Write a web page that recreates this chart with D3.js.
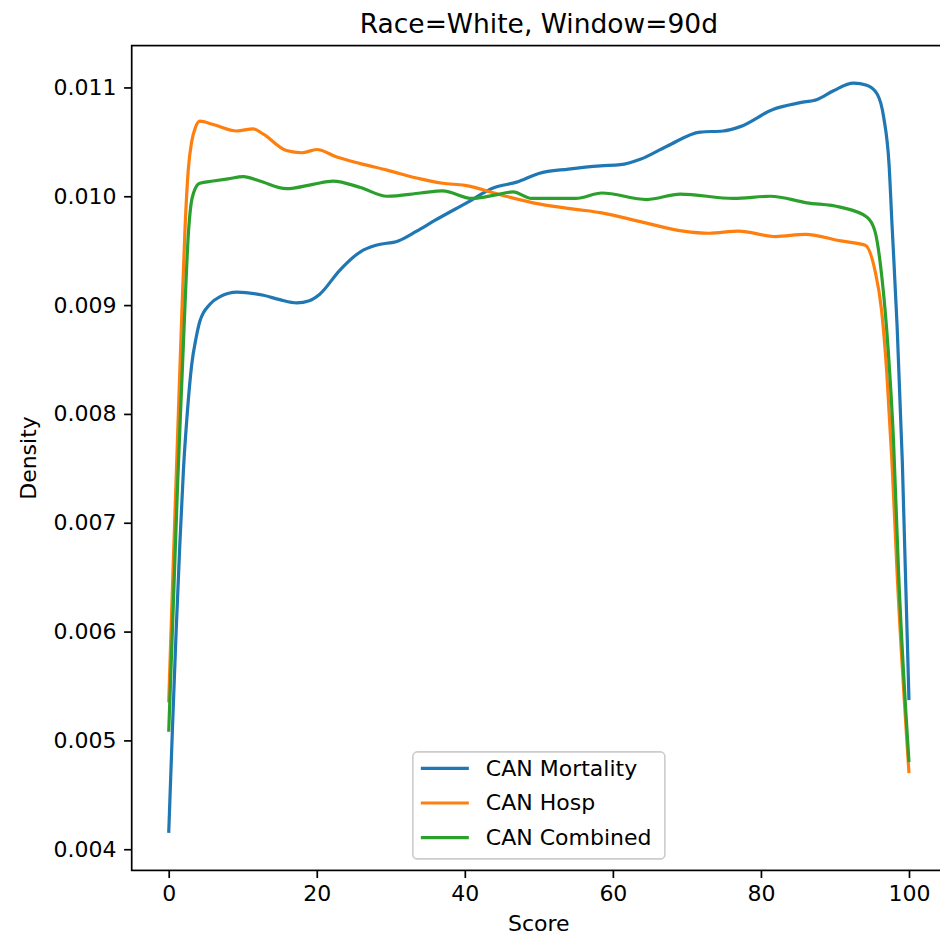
<!DOCTYPE html>
<html>
<head>
<meta charset="utf-8">
<script src="https://cdn.jsdelivr.net/npm/d3@7"></script>
<style>
  html, body { margin: 0; padding: 0; background: #fff; overflow: hidden; }
  svg { display: block; font-family: "DejaVu Sans", sans-serif; }
</style>
</head>
<body>
<svg id="chart" width="940" height="937"></svg>
<script>
// Density curves of the score, one per model
const seriesNames = ["CAN Mortality", "CAN Hosp", "CAN Combined"];
const seriesColors = ["#1f77b4", "#ff7f0e", "#2ca02c"];

const mortalityScore = [0, 0.5, 1.0, 1.5, 2.0, 2.5, 3.1, 3.7, 4.2, 5.6, 7, 9.2, 12.8, 15, 17.3, 19, 20.4, 23.1, 25.9, 28, 31, 33.5, 36, 40, 44, 47, 50, 54, 58.3, 61, 63.7, 67.3, 71.8, 74.9, 77.2, 81.7, 85.3, 87.6, 89.8, 92.5, 94.3, 95.7, 96.6, 97.3, 97.7, 98.4, 99.1, 100];
const mortalityDensity = [0.00415, 0.0051, 0.0060, 0.0068, 0.0075, 0.0080, 0.00845, 0.0087, 0.00885, 0.00901, 0.00908, 0.00912, 0.00909, 0.00905, 0.00902, 0.00904, 0.0091, 0.00932, 0.00949, 0.00955, 0.00959, 0.00968, 0.00978, 0.00993, 0.01008, 0.01013, 0.01021, 0.01025, 0.01028, 0.01029, 0.01034, 0.01046, 0.01059, 0.0106, 0.01064, 0.0108, 0.01086, 0.01089, 0.01097, 0.01104, 0.01102, 0.01094, 0.01072, 0.0103, 0.00975, 0.0088, 0.00756, 0.00537];

const hospScore = [0, 0.6, 1.2, 1.76, 2.2, 2.65, 3.1, 3.6, 4.2, 6, 9.2, 11.4, 12.8, 15.9, 18, 20, 22.7, 25.9, 29.5, 34, 37, 40, 45, 50, 55, 58.3, 64.1, 69.5, 73, 77, 82, 86, 90.8, 94.1, 95.4, 96.3, 97, 97.7, 98.4, 100];
const hospDensity = [0.00535, 0.0066, 0.0078, 0.0089, 0.0097, 0.01025, 0.0105, 0.01063, 0.01069, 0.01066, 0.0106, 0.01062, 0.01057, 0.01042, 0.0104, 0.01043, 0.01036, 0.0103, 0.01024, 0.01016, 0.01012, 0.0101, 0.01001, 0.00993, 0.00988, 0.00985, 0.00976, 0.00968, 0.00966, 0.00968, 0.00963, 0.00965, 0.00959, 0.00955, 0.00932, 0.00895, 0.00838, 0.00756, 0.00653, 0.0047];

const combinedScore = [0, 0.6, 1.2, 1.89, 2.2, 2.65, 3.0, 3.4, 4.2, 6, 8, 10.1, 12.3, 15.9, 19.5, 22.2, 25.9, 29.5, 34, 37, 41, 44, 46.5, 49, 55, 58.5, 64.6, 69.1, 76.3, 81.3, 86.2, 90.7, 94.3, 95.4, 96.3, 97.2, 97.9, 98.6, 100];
const combinedDensity = [0.00508, 0.0062, 0.00735, 0.00849, 0.0090, 0.00965, 0.00992, 0.01004, 0.01012, 0.01014, 0.01016, 0.01018, 0.01014, 0.01007, 0.01011, 0.01014, 0.01008, 0.0100, 0.01003, 0.01005, 0.00998, 0.01001, 0.01004, 0.00998, 0.00998, 0.01003, 0.00997, 0.01002, 0.00998, 0.0100, 0.00994, 0.0099, 0.00981, 0.00968, 0.00928, 0.00858, 0.00777, 0.00653, 0.0048];

const xTicks = [0, 20, 40, 60, 80, 100];
const yTicks = [0.004, 0.005, 0.006, 0.007, 0.008, 0.009, 0.010, 0.011];

const titleText = "Race=White, Window=90d";
const xLabel = "Score";
const yLabel = "Density";

const series = [
  { name: seriesNames[0], color: seriesColors[0], xs: mortalityScore, ys: mortalityDensity },
  { name: seriesNames[1], color: seriesColors[1], xs: hospScore, ys: hospDensity },
  { name: seriesNames[2], color: seriesColors[2], xs: combinedScore, ys: combinedDensity }
];

const svg = d3.select("#chart");
const box = { left: 131.7, top: 45.6, right: 946, bottom: 870.4 };
const fs = 22;          // tick / label / legend font size
const tickLen = 7.6, tickPad = 7.6;

// Axis limits with a 5% margin on each side of the data range
const allX = series.flatMap(s => s.xs), allY = series.flatMap(s => s.ys);
const [x0, x1] = d3.extent(allX), [y0, y1] = d3.extent(allY);
const mx = (x1 - x0) * 0.05, my = (y1 - y0) * 0.05;

const x = d3.scaleLinear().domain([x0 - mx, x1 + mx]).range([box.left, box.right]);
const y = d3.scaleLinear().domain([y0 - my, y1 + my]).range([box.bottom, box.top]);

// Curves
const line = d3.line().x(d => x(d[0])).y(d => y(d[1])).curve(d3.curveMonotoneX);
const plot = svg.append("g");
series.forEach(s => {
  plot.append("path")
    .datum(d3.zip(s.xs, s.ys))
    .attr("fill", "none")
    .attr("stroke", s.color)
    .attr("stroke-width", 3.2)
    .attr("stroke-linejoin", "round")
    .attr("stroke-linecap", "butt")
    .attr("d", line);
});

// Axes
const xAxis = svg.append("g").attr("transform", `translate(0,${box.bottom})`)
  .call(d3.axisBottom(x).tickValues(xTicks).tickFormat(d3.format("d")).tickSize(tickLen).tickPadding(tickPad).tickSizeOuter(0));
const yAxis = svg.append("g").attr("transform", `translate(${box.left},0)`)
  .call(d3.axisLeft(y).tickValues(yTicks).tickFormat(d3.format(".3f")).tickSize(tickLen).tickPadding(tickPad).tickSizeOuter(0));
[xAxis, yAxis].forEach(g => {
  g.select(".domain").remove();
  g.selectAll(".tick line").attr("stroke", "#000").attr("stroke-width", 1.7);
  g.selectAll(".tick text").attr("fill", "#000").style("font-size", fs + "px").style("font-family", "DejaVu Sans, sans-serif");
});

// Spines
svg.append("rect")
  .attr("x", box.left).attr("y", box.top)
  .attr("width", box.right - box.left).attr("height", box.bottom - box.top)
  .attr("fill", "none").attr("stroke", "#000").attr("stroke-width", 1.7);

// Title and axis labels
const cx = (box.left + box.right) / 2, cy = (box.top + box.bottom) / 2;
svg.append("text").attr("x", cx).attr("y", box.top - 13)
  .attr("text-anchor", "middle").style("font-size", "26.5px").attr("fill", "#000").text(titleText);
svg.append("text").attr("x", cx).attr("y", 931)
  .attr("text-anchor", "middle").style("font-size", fs + "px").attr("fill", "#000").text(xLabel);
svg.append("text").attr("transform", `translate(20,${cy}) rotate(-90)`)
  .attr("text-anchor", "middle").attr("dominant-baseline", "hanging")
  .style("font-size", fs + "px").attr("fill", "#000").text(yLabel);

// Legend, lower center
const legW = 252, legH = 107, rowH = 34.6;
const lx = cx - legW / 2, ly = box.bottom - 11.5 - legH;
const leg = svg.append("g").attr("transform", `translate(${lx},${ly})`);
leg.append("rect").attr("width", legW).attr("height", legH).attr("rx", 4.5)
  .attr("fill", "#fff").attr("fill-opacity", 0.8).attr("stroke", "#cccccc").attr("stroke-width", 1.6);
series.forEach((s, i) => {
  const ry = 16.5 + i * rowH;
  leg.append("line").attr("x1", 8).attr("x2", 56).attr("y1", ry).attr("y2", ry)
    .attr("stroke", s.color).attr("stroke-width", 3.2);
  leg.append("text").attr("x", 73).attr("y", ry).attr("dominant-baseline", "central")
    .style("font-size", fs + "px").attr("fill", "#000").text(s.name);
});
</script>
</body>
</html>
